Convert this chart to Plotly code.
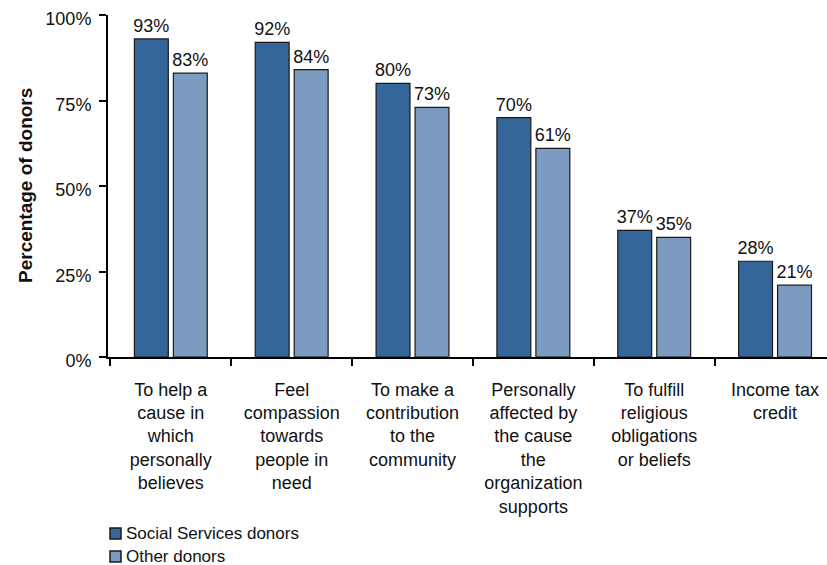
import plotly.graph_objects as go

categories = [
    "To help a<br>cause in<br>which<br>personally<br>believes",
    "Feel<br>compassion<br>towards<br>people in<br>need",
    "To make a<br>contribution<br>to the<br>community",
    "Personally<br>affected by<br>the cause<br>the<br>organization<br>supports",
    "To fulfill<br>religious<br>obligations<br>or beliefs",
    "Income tax<br>credit",
]
series_names = ["Social Services donors", "Other donors"]
social_services = [93, 92, 80, 70, 37, 28]
other_donors = [83, 84, 73, 61, 35, 21]
y_ticks = [0, 25, 50, 75, 100]
y_tick_labels = ["0%", "25%", "50%", "75%", "100%"]

font = "Liberation Sans, Arial, sans-serif"
colors = ["#346699", "#7b9cc0"]
outline = "#1a1a1a"

W, H = 827, 565
# on-screen plot box: left 108, top 15, bottom 357, right ~835 (beyond the window)
L, T, B, R = 108, 15, H - 357, 0
pw, ph = W - L - R, H - T - B

def px_x(px):
    return (px - L) / pw

def px_y(py):
    return (H - B - py) / ph

fig = go.Figure()
for name, vals, col in zip(series_names, [social_services, other_donors], colors):
    fig.add_trace(go.Bar(
        x=categories, y=vals, name=name,
        marker=dict(color=col, line=dict(color=outline, width=1.2)),
        text=[f"{v}%" for v in vals], textposition="outside",
        textfont=dict(family=font, size=18, color="#111"),
        constraintext="none", cliponaxis=False, showlegend=False,
    ))

shapes = []
annotations = []
legend_tops = [528, 551]
for name, col, top in zip(series_names, colors, legend_tops):
    shapes.append(dict(type="rect", xref="paper", yref="paper",
                       x0=px_x(110), x1=px_x(121), y0=px_y(top + 11), y1=px_y(top),
                       fillcolor=col, line=dict(color=outline, width=1.5)))
    annotations.append(dict(text=name, xref="paper", yref="paper",
                            x=px_x(124), y=px_y(top + 5.5), xanchor="left", yanchor="middle",
                            showarrow=False, font=dict(family=font, size=17, color="#111")))

annotations.append(dict(text="<b>Percentage of donors</b>", xref="paper", yref="paper",
                        x=px_x(25), y=0.5, textangle=-90, xanchor="center", yanchor="middle",
                        showarrow=False, font=dict(family=font, size=19, color="#111")))

fig.update_layout(
    width=W, height=H,
    margin=dict(l=L, r=R, t=T, b=B),
    paper_bgcolor="white", plot_bgcolor="white",
    barmode="group", bargap=0.355, bargroupgap=0.13,
    showlegend=False,
    shapes=shapes, annotations=annotations,
    xaxis=dict(
        range=[-0.52, 5.43], showline=True, linecolor="black", linewidth=2,
        ticks="outside", tickson="boundaries", ticklen=7, tickwidth=2, tickcolor="black",
        tickfont=dict(family=font, size=18, color="#111"), tickangle=0,
        ticklabelstandoff=15,
        showgrid=False, automargin=False,
    ),
    yaxis=dict(
        range=[0, 100], tickvals=y_ticks, ticktext=y_tick_labels,
        showline=True, linecolor="black", linewidth=2,
        ticks="outside", ticklen=7, tickwidth=2, tickcolor="black",
        tickfont=dict(family=font, size=18, color="#111"),
        ticklabelshift=4, ticklabelstandoff=4,
        showgrid=False, zeroline=False, automargin=False,
    ),
)

fig.write_html("out.html", config={"displayModeBar": False},
               post_script="document.body.style.margin='0px';document.body.style.overflow='hidden';")
